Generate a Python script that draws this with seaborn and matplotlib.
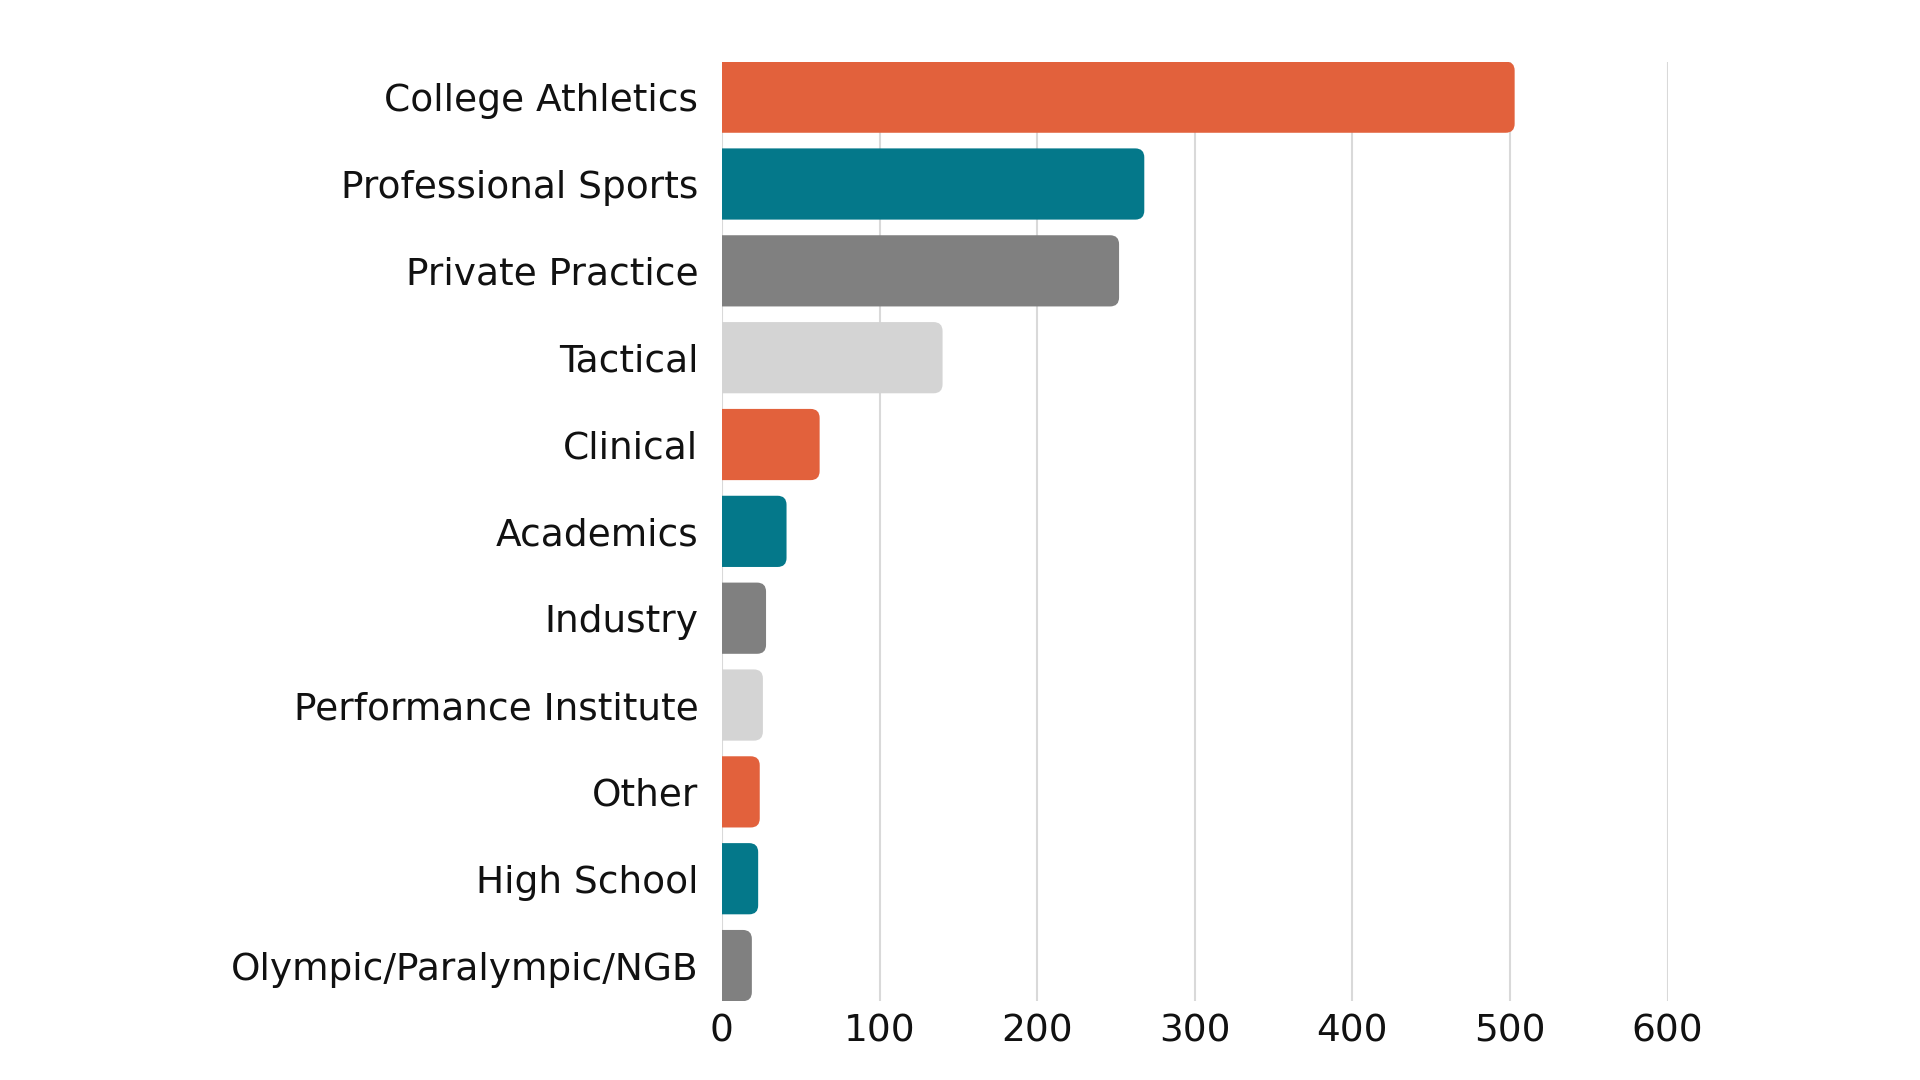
import matplotlib
matplotlib.use("Agg")
import matplotlib.pyplot as plt
from matplotlib.patches import FancyBboxPatch
import seaborn as sns
import pandas as pd

# data
categories = ["College Athletics", "Professional Sports", "Private Practice", "Tactical",
              "Clinical", "Academics", "Industry", "Performance Institute", "Other",
              "High School", "Olympic/Paralympic/NGB"]
counts = [503, 268, 252, 140, 62, 41, 28, 26, 24, 23, 19]
bar_colors = ["#E2613C", "#04788A", "#808080", "#D4D4D4"] * 3
x_ticks = [0, 100, 200, 300, 400, 500, 600]

df = pd.DataFrame({"setting": categories, "count": counts})

sns.set_theme(style="white")
plt.rcParams["font.family"] = ["DejaVu Sans"]

fig = plt.figure(figsize=(19.2, 10.8), dpi=100)
ax = fig.add_axes([0.376, 0.073, 0.4925, 0.870])

sns.barplot(data=df, x="count", y="setting", hue="setting",
            palette=bar_colors[:len(categories)], legend=False,
            width=0.82, saturation=1, ax=ax)

ax.set_xlim(0, 600)
ax.set_ylim(len(categories) - 1 + 0.41, -0.41)
ax.set_xticks(x_ticks)
ax.set_xlabel("")
ax.set_ylabel("")
for s in ax.spines.values():
    s.set_visible(False)
ax.grid(axis="x", color="#D9D9D9", linewidth=1.5)
ax.set_axisbelow(True)
ax.tick_params(axis="y", length=0, pad=17, labelsize=27, labelcolor="#111111")
ax.tick_params(axis="x", length=0, pad=9, labelsize=27, labelcolor="#111111")

# swap plain rectangles for ones with rounded right-hand corners
fig.canvas.draw()
p0 = ax.transData.transform((0, 0))
px_x = ax.transData.transform((1, 0))[0] - p0[0]
px_y = abs(ax.transData.transform((0, 1))[1] - p0[1])
radius_px = 9
r = radius_px / px_x
aspect = (radius_px / px_y) / r
for bar in list(ax.patches):
    x, y = bar.get_x(), bar.get_y()
    w, h = bar.get_width(), bar.get_height()
    fb = FancyBboxPatch((x - 20, y), w + 20, h,
                        boxstyle=f"round,pad=0,rounding_size={r}",
                        mutation_aspect=aspect,
                        facecolor=bar.get_facecolor(), edgecolor="none",
                        zorder=bar.get_zorder())
    fb.set_clip_path(ax.patch)
    ax.add_patch(fb)
    bar.remove()

fig.savefig("out.png", dpi=100, facecolor="white")
